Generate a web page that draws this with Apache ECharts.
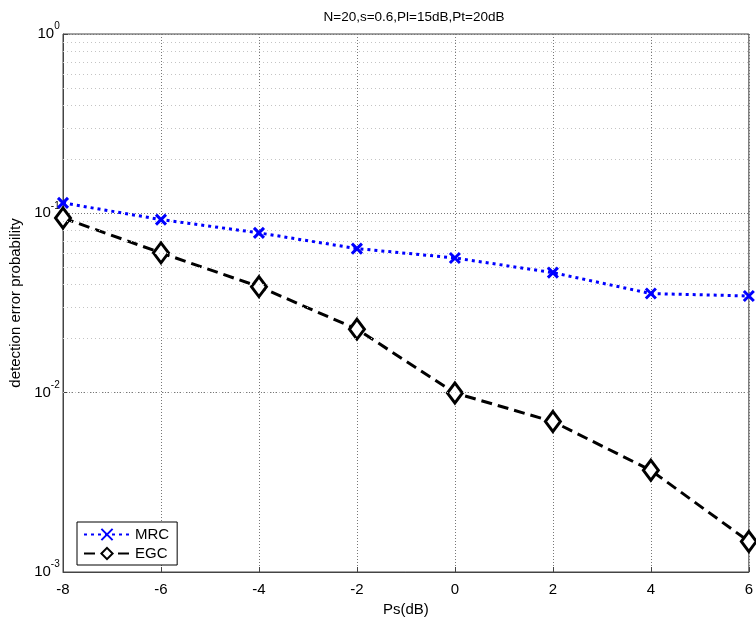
<!DOCTYPE html>
<html>
<head>
<meta charset="utf-8">
<script src="https://cdn.jsdelivr.net/npm/echarts@6/dist/echarts.min.js"></script>
<style>html,body{margin:0;padding:0;background:#fff}#c{width:756px;height:622px}</style>
</head>
<body>
<div id="c"></div>
<script>
const psDb = [-8, -6, -4, -2, 0, 2, 4, 6];
const mrc = [0.1143, 0.0923, 0.0778, 0.0636, 0.0564, 0.0467, 0.0357, 0.0346];
const egc = [0.0942, 0.0602, 0.0390, 0.0226, 0.00996, 0.0069, 0.00369, 0.00148];
const minorGrid = [0.002,0.003,0.004,0.005,0.006,0.007,0.008,0.009,
                   0.02,0.03,0.04,0.05,0.06,0.07,0.08,0.09,
                   0.2,0.3,0.4,0.5,0.6,0.7,0.8,0.9];
const titleText = 'N=20,s=0.6,Pl=15dB,Pt=20dB';

const font = 'Liberation Sans, Arial, sans-serif';
const chart = echarts.init(document.getElementById('c'));
const crossPath = 'path://M0,0 L10,10 M10,0 L0,10';

chart.setOption({
  animation: false,
  backgroundColor: '#fff',
  title: {
    text: titleText, left: 409, top: 5, textAlign: 'center',
    textStyle: {fontFamily: font, fontSize: 13.5, fontWeight: 'normal', color: '#000'}
  },
  grid: {left: 63, right: 3, top: 34, bottom: 50, show: true, borderColor: '#444', borderWidth: 1, backgroundColor: '#fff'},
  legend: {
    left: 77, top: 522, orient: 'vertical',
    backgroundColor: '#fff', borderColor: '#000', borderWidth: 1, borderRadius: 0,
    padding: [5, 8, 4, 6], itemGap: 4, itemWidth: 46, itemHeight: 14,
    textStyle: {fontFamily: font, fontSize: 15, color: '#000'},
    data: ['MRC', 'EGC']
  },
  xAxis: {
    type: 'value', min: -8, max: 6, interval: 2,
    name: 'Ps(dB)', nameLocation: 'middle', nameGap: 30,
    nameTextStyle: {fontFamily: font, fontSize: 15, color: '#000'},
    axisLine: {show: true, onZero: false, lineStyle: {color: '#444'}},
    axisTick: {show: true, inside: true, length: 5, lineStyle: {color: '#444'}},
    axisLabel: {fontFamily: font, fontSize: 15, color: '#000', margin: 10},
    splitLine: {show: true, lineStyle: {color: '#777', type: [1, 2], width: 1}}
  },
  yAxis: {
    type: 'log', logBase: 10, min: 0.001, max: 1,
    name: 'detection error probability', nameLocation: 'middle', nameGap: 35,
    nameTextStyle: {fontFamily: font, fontSize: 15, color: '#000'},
    axisLine: {show: true, onZero: false, lineStyle: {color: '#444'}},
    axisTick: {show: true, inside: true, length: 5, lineStyle: {color: '#444'}},
    axisLabel: {
      margin: 3,
      formatter: function (v) {
        const e = Math.round(Math.log10(v));
        return '{b|10}{s|' + e + '}{p| }';
      },
      rich: {
        b: {fontFamily: font, fontSize: 15, color: '#000', lineHeight: 15, verticalAlign: 'middle'},
        s: {fontFamily: font, fontSize: 10, color: '#000', lineHeight: 10, verticalAlign: 'top'},
        p: {fontFamily: font, fontSize: 1, lineHeight: 25, verticalAlign: 'middle'}
      }
    },
    splitLine: {show: true, lineStyle: {color: '#777', type: [1, 2], width: 1}}
  },
  series: [
    {
      name: 'MRC', type: 'line',
      data: psDb.map((x, i) => [x, mrc[i]]),
      symbol: crossPath, symbolSize: 10,
      lineStyle: {color: '#0000ff', width: 3, type: [3, 4]},
      itemStyle: {color: '#0000ff', borderColor: '#0000ff', borderWidth: 3},
      z: 5
    },
    {
      name: 'EGC', type: 'line',
      data: psDb.map((x, i) => [x, egc[i]]),
      symbol: 'diamond', symbolSize: [15, 20],
      lineStyle: {color: '#000', width: 3, type: [11, 6]},
      itemStyle: {color: '#fff', borderColor: '#000', borderWidth: 3},
      z: 4
    },
    {
      name: 'minor', type: 'line', data: [], silent: true,
      markLine: {
        silent: true, symbol: 'none', label: {show: false},
        lineStyle: {color: '#c4c4c4', type: [1, 3], width: 1},
        data: minorGrid.map(v => ({yAxis: v}))
      },
      z: 1
    }
  ]
});
</script>
</body>
</html>
